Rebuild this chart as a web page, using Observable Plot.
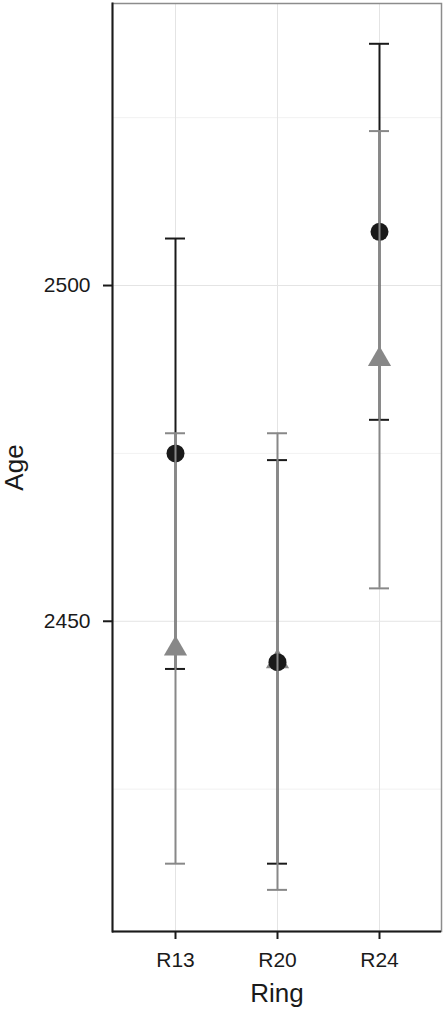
<!DOCTYPE html>
<html>
<head>
<meta charset="utf-8">
<script src="https://cdn.jsdelivr.net/npm/d3@7"></script>
<script src="https://cdn.jsdelivr.net/npm/@observablehq/plot@0.6"></script>
<style>
  html, body { margin: 0; padding: 0; background: #fff; }
  #chart svg { display: block; }
</style>
</head>
<body>
<div id="chart"></div>
<script>
const rings = ["R13", "R20", "R24"];
const blackMean = [2475.0, 2443.9, 2508.0];
const blackLow  = [2442.9, 2413.9, 2480.0];
const blackHigh = [2507.0, 2474.0, 2536.0];
const greyMean  = [2445.9, 2444.0, 2489.0];
const greyLow   = [2413.9, 2410.0, 2454.9];
const greyHigh  = [2478.0, 2478.0, 2523.0];
const yTicks = [2450, 2500];
const yMinor = [2425, 2475, 2525];
const yDomain = [2403.8, 2542.0];

const black = rings.map((r, i) => ({ring: r, mean: blackMean[i], low: blackLow[i], high: blackHigh[i]}));
const grey  = rings.map((r, i) => ({ring: r, mean: greyMean[i],  low: greyLow[i],  high: greyHigh[i]}));

const BLACK = "#1a1a1a";
const GREY = "#888888";

const plot = Plot.plot({
  width: 444,
  height: 1010,
  marginLeft: 112,
  marginRight: 3,
  marginTop: 3,
  marginBottom: 79,
  style: {fontFamily: "'Liberation Sans', Arial, Helvetica, sans-serif", background: "#fff", color: "#1a1a1a"},
  x: {type: "band", domain: rings, paddingInner: 0.805, paddingOuter: 0.5025, label: null},
  y: {domain: yDomain, label: null},
  marks: [
    Plot.ruleY(yMinor, {stroke: "#f2f2f2", strokeWidth: 1}),
    Plot.ruleY(yTicks, {stroke: "#e4e4e4", strokeWidth: 1}),
    Plot.gridX(rings, {stroke: "#e4e4e4", strokeOpacity: 1, strokeWidth: 1}),
    Plot.frame({stroke: "#8c8c8c", strokeWidth: 1.5}),
    // black series error bars
    Plot.ruleX(black, {x: "ring", y1: "low", y2: "high", stroke: BLACK, strokeWidth: 2}),
    Plot.tickY(black, {x: "ring", y: "low", stroke: BLACK, strokeWidth: 2}),
    Plot.tickY(black, {x: "ring", y: "high", stroke: BLACK, strokeWidth: 2}),
    // grey triangles
    Plot.dot(grey, {x: "ring", y: "mean", symbol: "triangle", r: 8.6, fill: GREY, stroke: "none"}),
    // black circles
    Plot.dot(black, {x: "ring", y: "mean", symbol: "circle", r: 9, fill: BLACK, stroke: "none"}),
    // grey series error bars
    Plot.ruleX(grey, {x: "ring", y1: "low", y2: "high", stroke: GREY, strokeWidth: 2}),
    Plot.tickY(grey, {x: "ring", y: "low", stroke: GREY, strokeWidth: 2}),
    Plot.tickY(grey, {x: "ring", y: "high", stroke: GREY, strokeWidth: 2}),
    // axes
    Plot.axisY({ticks: yTicks, tickFormat: d => String(d), tickSize: 9, tickPadding: 13, fontSize: 21, label: null, strokeWidth: 2, stroke: BLACK}),
    Plot.axisX({tickSize: 8, tickPadding: 13, fontSize: 21, label: null, strokeWidth: 2, stroke: BLACK}),
    Plot.ruleY([yDomain[0]], {stroke: BLACK, strokeWidth: 2}),
    Plot.frame({anchor: "left", stroke: BLACK, strokeWidth: 2}),
    // axis titles
    Plot.text(["Age"], {frameAnchor: "left", dx: -98, rotate: -90, fontSize: 26, fill: BLACK, textAnchor: "middle", lineAnchor: "middle"}),
    Plot.text(["Ring"], {frameAnchor: "bottom", dy: 62, fontSize: 26, fill: BLACK, textAnchor: "middle", lineAnchor: "middle"})
  ]
});
document.getElementById("chart").appendChild(plot);
</script>
</body>
</html>
